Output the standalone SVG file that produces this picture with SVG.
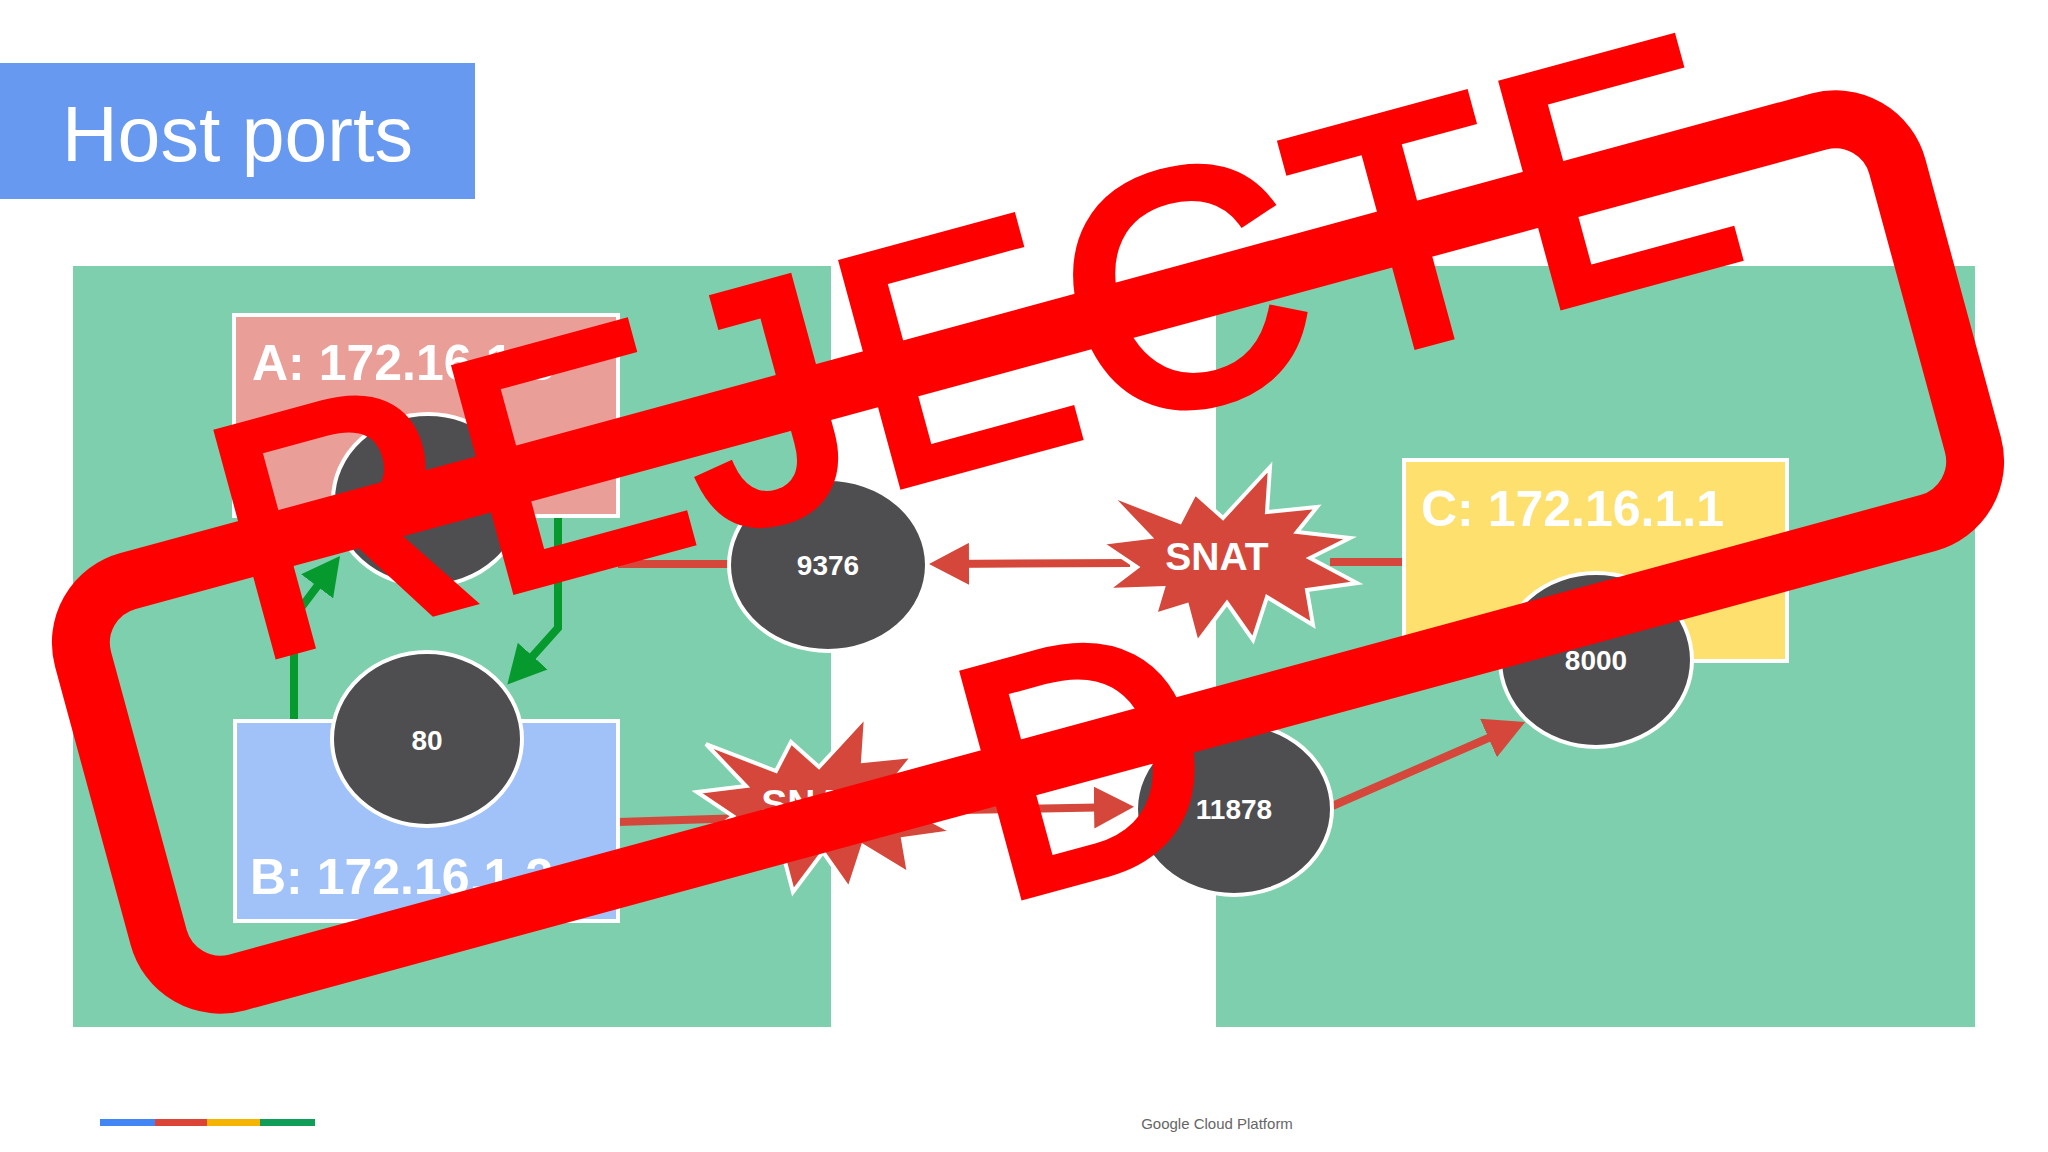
<svg xmlns="http://www.w3.org/2000/svg" width="2048" height="1152" viewBox="0 0 2048 1152">
<defs>
<style>
.panel{fill:#7ecfad}
.box{stroke:#ffffff;stroke-width:4}
.boxlabel{font-family:"Liberation Sans",Arial,sans-serif;font-weight:bold;font-size:50px;fill:#ffffff}
.port{fill:#4e4d4f;stroke:#ffffff;stroke-width:4}
.portlabel{font-family:"Liberation Sans",Arial,sans-serif;font-weight:bold;font-size:28px;fill:#ffffff;text-anchor:middle}
.star{fill:#d5473a;stroke:#ffffff;stroke-width:4;stroke-linejoin:miter}
.snat{font-family:"Liberation Sans",Arial,sans-serif;font-weight:bold;font-size:39px;fill:#ffffff;text-anchor:middle}
.red{stroke:#d5473a;stroke-width:8;fill:none}
.green{stroke:#069a2e;stroke-width:8;fill:none;stroke-linejoin:miter}
.stamptext{font-family:"Liberation Sans",Arial,sans-serif;font-size:330px;fill:#ff0000;stroke:#ff0000;stroke-width:11;text-anchor:middle;letter-spacing:8px}
</style>
<marker id="ahRed" viewBox="0 0 40 42" refX="30" refY="21" markerWidth="40" markerHeight="42" markerUnits="userSpaceOnUse" orient="auto">
<path d="M0,0 L40,21 L0,42 Z" fill="#d5473a"/>
</marker>
<marker id="ahGreen" viewBox="0 0 38 40" refX="28" refY="20" markerWidth="38" markerHeight="40" markerUnits="userSpaceOnUse" orient="auto">
<path d="M0,0 L38,20 L0,40 Z" fill="#069a2e"/>
</marker>
<path id="starShape" d="M-128,-12 L-79,-18 L-119,-60 L-49,-33 L-34,-62 L-6,-37 L41,-88 L38,-43 L88,-48 L68,-23 L121,-17 L81,3 L128,28 L78,35 L84,70 L38,42 L24,85 L-2,48 L-32,88 L-42,50 L-74,60 L-66,33 L-122,35 L-92,12 Z"/>
</defs>
<rect x="0" y="0" width="2048" height="1152" fill="#ffffff"/>

<g id="title">
<rect x="0" y="63" width="475" height="136" fill="#6699ef"/>
<text x="62" y="161" font-family="'Liberation Sans',Arial,sans-serif" font-size="77" fill="#ffffff">Host ports</text>
</g>

<g id="panel-left"><rect class="panel" x="73" y="266" width="758" height="761"/></g>
<g id="panel-right"><rect class="panel" x="1216" y="266" width="759" height="761"/></g>

<g id="connectors">
<line class="red" x1="1330" y1="562" x2="1404" y2="562"/>
<line class="red" x1="1130" y1="563" x2="939" y2="564" marker-end="url(#ahRed)"/>
<line class="red" x1="618" y1="564" x2="732" y2="564"/>
<line class="red" x1="618" y1="822" x2="745" y2="818"/>
<line class="red" x1="900" y1="811" x2="1124" y2="807" marker-end="url(#ahRed)"/>
<line class="red" x1="1330" y1="807" x2="1516" y2="726" marker-end="url(#ahRed)"/>
<path class="green" d="M294,721 L294,617 L334,564" marker-end="url(#ahGreen)"/>
<path class="green" d="M558,516 L558,628 L514,677" marker-end="url(#ahGreen)"/>
</g>

<g id="node-A">
<rect class="box" x="234" y="315" width="384" height="201" fill="#ea9e98"/>
<text class="boxlabel" x="252" y="380">A: 172.16.1.3</text>
</g>
<g id="port-A">
<ellipse class="port" cx="428" cy="500" rx="95" ry="86"/>
<text class="portlabel" x="428" y="514">8080</text>
</g>

<g id="node-B">
<rect class="box" x="235" y="721" width="383" height="200" fill="#a0c2f9"/>
<text class="boxlabel" x="250" y="894">B: 172.16.1.2</text>
</g>
<g id="port-80">
<ellipse class="port" cx="427" cy="739" rx="95" ry="87"/>
<text class="portlabel" x="427" y="750">80</text>
</g>

<g id="port-9376">
<ellipse class="port" cx="828" cy="565" rx="99" ry="86"/>
<text class="portlabel" x="828" y="575">9376</text>
</g>

<g id="snat-1">
<use href="#starShape" class="star" transform="translate(1229,555)"/>
<text class="snat" x="1217" y="570">SNAT</text>
</g>

<g id="snat-2">
<use href="#starShape" class="star" transform="translate(825,804)"/>
<text class="snat" x="813" y="817">SNAT</text>
</g>

<g id="port-11878">
<ellipse class="port" cx="1234" cy="809" rx="98" ry="86"/>
<text class="portlabel" x="1234" y="819">11878</text>
</g>

<g id="node-C">
<rect class="box" x="1404" y="460" width="383" height="201" fill="#fee06f"/>
<text class="boxlabel" x="1421" y="526">C: 172.16.1.1</text>
</g>
<g id="port-8000">
<ellipse class="port" cx="1596" cy="660" rx="96" ry="87"/>
<text class="portlabel" x="1596" y="670">8000</text>
</g>

<g id="footer">
<rect x="100" y="1119" width="55" height="7" fill="#4285f4"/>
<rect x="155" y="1119" width="52" height="7" fill="#db4437"/>
<rect x="207" y="1119" width="53" height="7" fill="#f4b400"/>
<rect x="260" y="1119" width="55" height="7" fill="#0f9d58"/>
<text x="1217" y="1129" text-anchor="middle" font-family="'Liberation Sans',Arial,sans-serif" font-size="15" fill="#666666">Google Cloud Platform</text>
</g>

<g id="stamp" transform="translate(1028,552) rotate(-15.2)">
<rect x="-940" y="-208" width="1880" height="416" rx="64" ry="64" fill="none" stroke="#ff0000" stroke-width="58"/>
<text class="stamptext" x="4" y="-99">REJECTE</text>
<text class="stamptext" x="4" y="329">D</text>
</g>
</svg>
